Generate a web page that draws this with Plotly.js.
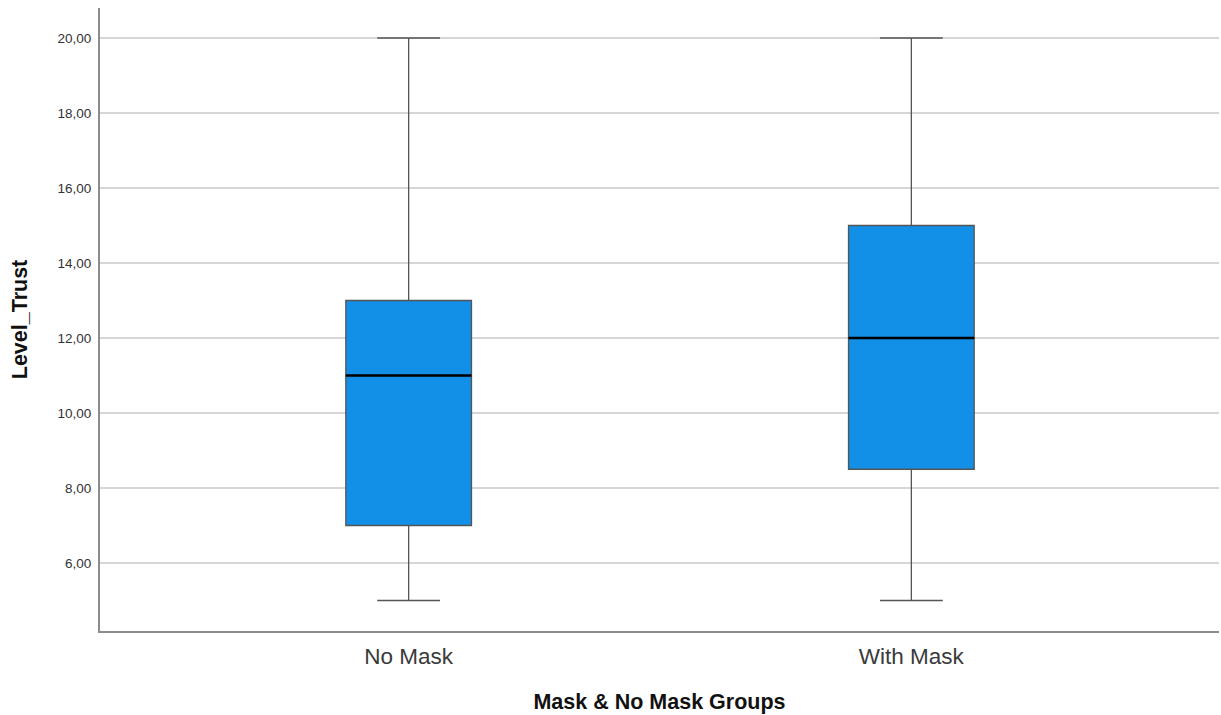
<!DOCTYPE html>
<html><head><meta charset="utf-8">
<script src="https://cdn.plot.ly/plotly-3.0.1.min.js"></script>
<style>body{margin:0;padding:0;background:#fff}#chart{width:1221px;height:715px}</style>
</head><body><div id="chart"></div>
<script>
var categories = ["No Mask", "With Mask"];
var lowerWhisker = [5, 5];
var q1Values = [7, 8.5];
var medianValues = [11, 12];
var q3Values = [13, 15];
var upperWhisker = [20, 20];
var yTicks = [6, 8, 10, 12, 14, 16, 18, 20];

var pos = categories.map(function(c, i){ return i; });
var boxW = 0.25;

var traces = [{
  type: 'box',
  x: pos,
  q1: q1Values, median: medianValues, q3: q3Values,
  lowerfence: lowerWhisker, upperfence: upperWhisker,
  width: boxW,
  whiskerwidth: 0.5,
  fillcolor: '#128FE6',
  line: {color: '#555555', width: 1.3},
  boxpoints: false,
  hoverinfo: 'skip',
  showlegend: false
}];
medianValues.forEach(function(m, i){
  traces.push({
    type: 'scatter', mode: 'lines',
    x: [pos[i] - boxW/2, pos[i] + boxW/2], y: [m, m],
    line: {color: '#000000', width: 2.4},
    hoverinfo: 'skip', showlegend: false
  });
});

var layout = {
  width: 1221, height: 715,
  margin: {l: 100, r: 2, t: 8, b: 84},
  paper_bgcolor: '#ffffff', plot_bgcolor: '#ffffff',
  separators: ',.',
  font: {family: 'Liberation Sans, Arial, sans-serif', color: '#333333'},
  xaxis: {
    range: [-0.614, 1.612],
    tickvals: pos, ticktext: categories,
    tickfont: {size: 22.5, color: '#3a3a3a'},
    ticklabelstandoff: 4,
    showgrid: false, zeroline: false,
    showline: true, linecolor: '#8c8c8c', linewidth: 2,
    ticks: '', ticklen: 0,
    title: {text: '<b>Mask &amp; No Mask Groups</b>', font: {size: 21.5, color: '#111111'}, standoff: 26}
  },
  yaxis: {
    range: [4.187, 20.8],
    tickvals: yTicks, tickformat: '.2f',
    tickfont: {size: 13.5, color: '#333333'},
    ticklabelstandoff: 4,
    showgrid: true, gridcolor: '#d6d6d6', gridwidth: 2,
    zeroline: false,
    showline: true, linecolor: '#8c8c8c', linewidth: 2,
    ticks: '', ticklen: 0,
    title: {text: '<b>Level_Trust</b>', font: {size: 21.5, color: '#111111'}, standoff: 24}
  }
};
Plotly.newPlot('chart', traces, layout, {displayModeBar: false, staticPlot: true});
</script></body></html>
